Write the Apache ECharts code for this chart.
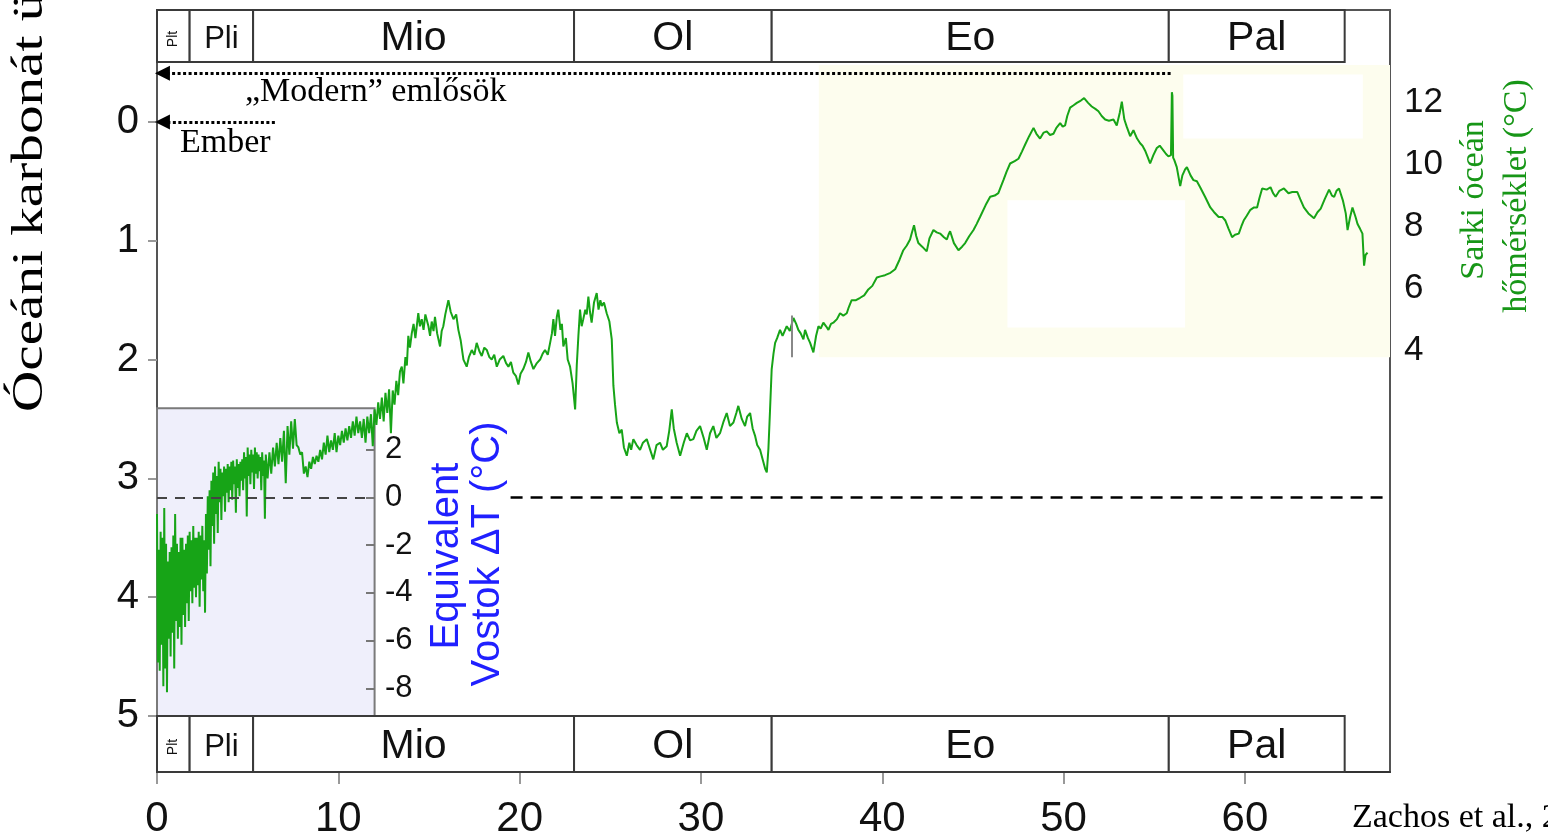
<!DOCTYPE html>
<html><head><meta charset="utf-8">
<script src="https://cdn.jsdelivr.net/npm/echarts@6/dist/echarts.min.js"></script>
<style>html,body{margin:0;padding:0;background:#fff}#c{width:1548px;height:840px}</style>
</head><body><div id="c"></div>
<script>
// ---------- data ----------
const ageTicks = [0, 10, 20, 30, 40, 50, 60];
const d18oTicks = [0, 1, 2, 3, 4, 5];
const polarTempTicks = [4, 6, 8, 10, 12];
const vostokTicks = [-8, -6, -4, -2, 0, 2];

const epochNames = ['Plt', 'Pli', 'Mio', 'Ol', 'Eo', 'Pal'];
const epochStart = [0, 1.8, 5.3, 23.0, 33.9, 55.8];
const epochEnd = [1.8, 5.3, 23.0, 33.9, 55.8, 65.5];

// deep-sea benthic d18O (per mil) vs age (Ma)
const d18oPleistocene = [
[0.00,3.30],[0.05,4.55],[0.10,3.60],[0.15,4.62],[0.20,3.45],[0.25,4.40],[0.30,3.50],[0.35,4.75],[0.40,3.25],[0.45,4.60],
[0.50,3.55],[0.55,4.80],[0.60,3.70],[0.65,4.35],[0.70,3.62],[0.75,4.50],[0.80,3.58],[0.85,4.30],[0.90,3.48],[0.95,4.60],
[1.00,3.30],[1.05,4.20],[1.10,3.55],[1.15,4.35],[1.20,3.62],[1.25,4.25],[1.30,3.50],[1.35,4.40],[1.40,3.50],[1.45,4.15],
[1.50,3.60],[1.55,4.25],[1.60,3.55],[1.65,4.05],[1.70,3.48],[1.75,4.20],[1.80,3.45],[1.85,3.95],[1.90,3.52],[1.95,4.05],
[2.00,3.40],[2.05,3.92],[2.10,3.50],[2.15,4.00],[2.20,3.50],[2.25,3.90],[2.30,3.45],[2.35,4.08],[2.40,3.48],[2.45,3.85],
[2.50,3.40],[2.55,3.95],[2.60,3.52],[2.65,4.13],[2.70,3.30],[2.75,3.80],[2.80,3.15],[2.85,3.60],[2.90,3.10],[2.95,3.74]
];
const d18oPliocene = [
[3.00,3.02],[3.05,3.40],[3.10,2.95],[3.15,3.55],[3.20,2.90],[3.25,3.30],[3.30,2.98],[3.35,3.46],[3.40,2.86],[3.45,3.20],
[3.50,2.92],[3.55,3.35],[3.60,2.95],[3.65,3.15],[3.70,2.90],[3.75,3.28],[3.80,2.92],[3.85,3.12],[3.90,2.88],[3.95,3.20],
[4.00,2.90],[4.05,3.10],[4.10,2.86],[4.15,3.18],[4.20,2.85],[4.25,3.05],[4.30,2.90],[4.35,3.29],[4.40,2.84],[4.45,3.08],
[4.50,2.88],[4.55,3.15],[4.60,2.86],[4.65,3.02],[4.70,2.84],[4.75,3.10],[4.80,2.78],[4.85,3.00],[4.90,2.82],[4.95,3.32],
[5.00,2.74],[5.05,2.98],[5.10,2.80],[5.15,3.05],[5.20,2.76],[5.25,2.95],[5.30,2.80],[5.35,3.09],[5.40,2.74],[5.45,2.96],
[5.50,2.78],[5.55,3.00],[5.60,2.80],[5.65,2.94],[5.70,2.82],[5.75,3.10],[5.80,2.78],[5.85,2.98],[5.90,2.85],[5.95,3.34]
];
const d18oLateMiocene = [
[6.0,2.80],[6.1,3.00],[6.2,2.78],[6.3,2.96],[6.4,2.74],[6.5,2.90],[6.6,2.70],[6.7,2.88],[6.8,2.66],[6.9,2.86],
[7.0,2.60],[7.1,3.04],[7.2,2.56],[7.3,2.80],[7.4,2.52],[7.5,2.75],[7.6,2.50],[7.7,2.72],[7.8,2.74],[7.9,2.80],
[8.0,2.78],[8.1,2.96],[8.2,2.90],[8.3,2.99],[8.4,2.86],[8.5,2.92],[8.6,2.82],[8.7,2.88],[8.8,2.81],[8.9,2.86],
[9.0,2.76],[9.1,2.84],[9.2,2.70],[9.3,2.80],[9.4,2.64],[9.5,2.78],[9.6,2.68],[9.7,2.76],[9.8,2.62],[9.9,2.78],
[10.0,2.64],[10.1,2.72],[10.2,2.60],[10.3,2.70],[10.4,2.58],[10.5,2.68],[10.6,2.56],[10.7,2.66],[10.8,2.52],[10.9,2.64],
[11.0,2.48],[11.1,2.62],[11.2,2.52],[11.3,2.66],[11.4,2.50],[11.5,2.70],[11.6,2.48],[11.7,2.62],[11.8,2.46],[11.9,2.73],
[12.0,2.42],[12.1,2.55],[12.2,2.36],[12.3,2.50],[12.4,2.32],[12.5,2.52],[12.6,2.28],[12.7,2.45],[12.8,2.25],[12.9,2.62],
[13.0,2.26],[13.1,2.38],[13.2,2.18],[13.3,2.30],[13.4,2.10]
];
const d18oMioOligo = [
[13.5,2.06],[13.59,2.20],[13.7,1.98],[13.78,2.05],[13.86,1.80],[13.95,1.90],[14.05,1.78],[14.15,1.70],[14.25,1.82],[14.41,1.61],
[14.5,1.72],[14.6,1.66],[14.7,1.75],[14.8,1.62],[14.88,1.61],[14.97,1.72],[15.06,1.80],[15.15,1.68],[15.25,1.76],[15.33,1.64],
[15.45,1.78],[15.61,1.89],[15.7,1.76],[15.79,1.72],[15.9,1.62],[16.07,1.50],[16.2,1.60],[16.35,1.66],[16.5,1.62],[16.62,1.75],
[16.75,1.84],[16.9,2.00],[17.08,2.06],[17.2,1.98],[17.36,1.92],[17.5,1.96],[17.63,1.86],[17.78,1.93],[17.91,1.97],[18.05,1.90],
[18.19,1.92],[18.33,1.98],[18.46,2.00],[18.6,1.96],[18.74,2.06],[18.9,2.00],[19.1,1.97],[19.25,2.03],[19.38,2.06],[19.52,2.02],
[19.65,2.11],[19.8,2.14],[19.93,2.21],[20.05,2.12],[20.2,2.08],[20.35,2.02],[20.48,1.94],[20.62,2.02],[20.76,2.08],[20.95,2.03],
[21.13,2.00],[21.27,1.95],[21.4,1.92],[21.55,1.96],[21.68,1.86],[21.78,1.78],[21.86,1.66],[21.95,1.80],[22.05,1.64],[22.13,1.58],
[22.25,1.75],[22.33,1.70],[22.41,1.89],[22.55,1.82],[22.65,2.00],[22.78,2.06],[22.92,2.20],[23.06,2.42],[23.15,2.05],[23.24,1.80],
[23.33,1.58],[23.42,1.72],[23.51,1.66],[23.62,1.58],[23.7,1.62],[23.79,1.47],[23.88,1.60],[23.97,1.69],[24.1,1.52],[24.25,1.44],
[24.35,1.58],[24.45,1.50],[24.53,1.55],[24.65,1.52],[24.8,1.61],[24.95,1.68],[25.08,1.83],[25.17,2.22],[25.26,2.38],[25.36,2.53],
[25.5,2.62],[25.63,2.59],[25.75,2.74],[25.91,2.81],[26.05,2.70],[26.15,2.76],[26.27,2.67],[26.45,2.72],[26.64,2.76],[26.8,2.70],
[27.01,2.67],[27.2,2.76],[27.37,2.84],[27.55,2.72],[27.74,2.70],[27.9,2.76],[28.11,2.73],[28.25,2.60],[28.39,2.42],[28.5,2.58],
[28.66,2.70],[28.85,2.81],[29.05,2.70],[29.22,2.62],[29.4,2.68],[29.58,2.67],[29.75,2.60],[29.95,2.56],[30.15,2.66],[30.32,2.76],
[30.5,2.62],[30.68,2.56],[30.85,2.66],[31.05,2.62],[31.25,2.52],[31.42,2.45],[31.6,2.56],[31.79,2.53],[31.95,2.45],[32.06,2.39],
[32.25,2.50],[32.43,2.56],[32.55,2.48],[32.71,2.45],[32.85,2.58],[32.98,2.64],[33.1,2.72],[33.26,2.76],[33.4,2.84],[33.54,2.92],
[33.63,2.95],[33.72,2.75],[33.81,2.42],[33.9,2.08]
];
const d18oPaleogene = [
[34.0,1.95],[34.09,1.86],[34.2,1.82],[34.36,1.75],[34.5,1.80],[34.73,1.72],[34.9,1.76],[35.1,1.65],[35.25,1.70],[35.37,1.75],
[35.5,1.78],[35.65,1.83],[35.74,1.75],[35.9,1.82],[36.02,1.86],[36.2,1.94],[36.35,1.80],[36.48,1.72],[36.6,1.74],[36.75,1.69],
[36.9,1.72],[37.03,1.75],[37.17,1.70],[37.3,1.69],[37.5,1.66],[37.67,1.61],[37.85,1.63],[38.04,1.61],[38.15,1.56],[38.31,1.50],
[38.55,1.50],[38.78,1.48],[39.0,1.46],[39.23,1.41],[39.45,1.38],[39.7,1.31],[39.9,1.30],[40.15,1.29],[40.45,1.27],[40.71,1.24],
[40.95,1.16],[41.16,1.08],[41.35,1.04],[41.53,0.99],[41.62,0.94],[41.75,0.87],[41.87,0.96],[41.99,1.02],[42.2,1.05],[42.45,1.09],
[42.6,0.98],[42.82,0.91],[43.0,0.93],[43.19,0.94],[43.4,0.97],[43.56,0.99],[43.65,0.95],[43.74,0.92],[43.95,1.02],[44.2,1.08],
[44.4,1.05],[44.57,1.02],[44.8,0.96],[45.03,0.91],[45.2,0.86],[45.39,0.80],[45.7,0.70],[45.95,0.63],[46.2,0.62],[46.4,0.60],
[46.55,0.54],[46.68,0.49],[46.85,0.42],[47.05,0.35],[47.3,0.33],[47.51,0.31],[47.7,0.25],[47.88,0.19],[48.1,0.12],[48.34,0.05],
[48.5,0.10],[48.7,0.14],[48.9,0.09],[49.07,0.08],[49.25,0.11],[49.44,0.10],[49.6,0.05],[49.81,0.01],[49.95,0.04],[50.08,0.03],
[50.2,-0.05],[50.36,-0.12],[50.55,-0.14],[50.73,-0.16],[50.95,-0.18],[51.13,-0.20],[51.35,-0.16],[51.55,-0.13],[51.75,-0.11],[51.92,-0.09],
[52.1,-0.05],[52.29,-0.02],[52.5,-0.01],[52.75,-0.02],[52.93,0.03],[53.1,-0.08],[53.21,-0.17],[53.35,-0.02],[53.48,0.04],[53.67,0.12],
[53.85,0.07],[54.05,0.14],[54.22,0.18],[54.35,0.20],[54.49,0.24],[54.65,0.30],[54.77,0.35],[54.95,0.28],[55.14,0.22],[55.3,0.20],
[55.5,0.24],[55.65,0.27],[55.78,0.29],[55.92,0.28],[55.97,-0.25],[56.0,-0.22],[56.04,0.30],[56.1,0.32],[56.24,0.38],[56.43,0.54],
[56.55,0.45],[56.7,0.40],[56.8,0.38],[57.0,0.45],[57.16,0.49],[57.35,0.50],[57.53,0.55],[57.8,0.63],[58.09,0.72],[58.3,0.76],
[58.55,0.80],[58.75,0.80],[58.92,0.83],[59.1,0.90],[59.29,0.97],[59.45,0.95],[59.66,0.94],[59.8,0.88],[59.93,0.83],[60.1,0.79],
[60.3,0.74],[60.5,0.72],[60.67,0.72],[60.8,0.64],[60.95,0.56],[61.2,0.57],[61.41,0.55],[61.55,0.60],[61.69,0.63],[61.9,0.58],
[62.15,0.56],[62.4,0.60],[62.61,0.59],[62.89,0.59],[63.05,0.65],[63.25,0.72],[63.5,0.77],[63.81,0.81],[64.0,0.76],[64.18,0.73],
[64.4,0.65],[64.64,0.57],[64.8,0.62],[64.92,0.63],[65.05,0.58],[65.19,0.56],[65.4,0.66],[65.56,0.77],[65.66,0.91],[65.8,0.80],
[65.93,0.72],[66.1,0.80],[66.21,0.86],[66.35,0.90],[66.48,0.94],[66.57,1.21],[66.65,1.12],[66.76,1.10]
];

// reference levels / regions (axis units)
const vostokZeroD18O = 3.16;          // d18O where equivalent Vostok dT = 0
const vostokBox = [0, 2.41, 12, 5];   // age0, d18O top, age1, d18O bottom
const dashedGapAges = [12, 19.5];
const polarPanel = [36.5, -0.48, 68, 1.98];
const whitePatches = [[56.6, -0.40, 66.5, 0.14], [46.9, 0.66, 56.7, 1.73]];
const greyMark = [35.0, 1.63, 1.98];
const arrowModern = [55.9, 0.3, -0.41];
const arrowHuman = [6.5, 0.3, 0.0];

// axis extents
const ageMax = 68;
const d18oMin = -0.5, d18oMax = 5;
const tempMin = -7.80, tempMax = 13.29;
const vostokMin = -9.16, vostokMax = 18.23;

// ---------- chart ----------
const chart = echarts.init(document.getElementById('c'), null, {renderer: 'canvas'});
const SANS = 'Liberation Sans';
const SERIF = 'Liberation Serif';
const G = {left: 157, right: 158};

function epochRenderer(params, api) {
  const s = api.value(0), e = api.value(1);
  const name = epochNames[params.dataIndex];
  const p0 = api.coord([s, 1]), p1 = api.coord([e, 0]);
  const w = p1[0] - p0[0], h = p1[1] - p0[1];
  const cx = (p0[0] + p1[0]) / 2, cy = (p0[1] + p1[1]) / 2;
  let font = '41px ' + SANS, rot = 0;
  if (w < 40) { font = '14px ' + SANS; rot = Math.PI / 2; }
  else if (w < 80) { font = '31px ' + SANS; }
  return {
    type: 'group',
    children: [
      {type: 'rect', shape: {x: p0[0], y: p0[1], width: w, height: h},
       style: {fill: '#fff', stroke: '#3a3a3a', lineWidth: 2}},
      {type: 'text', x: cx, y: cy + 3, rotation: rot,
       style: {text: name, font: font, fill: '#111', align: 'center', verticalAlign: 'middle'}}
    ]
  };
}
const epochData = epochStart.map((s, i) => [s, epochEnd[i]]);

const option = {
  animation: false,
  backgroundColor: '#fff',
  grid: [
    {left: G.left, right: G.right, top: 62.5, bottom: 124},
    {left: G.left, right: G.right, top: 10, bottom: 778},
    {left: G.left, right: G.right, top: 716, bottom: 68},
    {left: G.left, right: G.right, top: 10, bottom: 68, show: true, borderColor: '#555', borderWidth: 2, backgroundColor: 'transparent'}
  ],
  xAxis: [
    {gridIndex: 0, type: 'value', min: 0, max: ageMax, show: false},
    {gridIndex: 1, type: 'value', min: 0, max: ageMax, show: false},
    {gridIndex: 2, type: 'value', min: 0, max: ageMax, position: 'bottom',
     axisLine: {show: true, lineStyle: {color: '#333', width: 2}},
     axisTick: {show: true, customValues: ageTicks, length: 12, lineStyle: {color: '#999', width: 2}},
     axisLabel: {customValues: ageTicks, margin: 26, fontSize: 42, fontFamily: SANS, color: '#111'},
     splitLine: {show: false}},
    {gridIndex: 3, type: 'value', min: 0, max: ageMax, show: false}
  ],
  yAxis: [
    {gridIndex: 0, type: 'value', position: 'left', inverse: true, min: d18oMin, max: d18oMax,
     axisLine: {show: false},
     axisTick: {show: true, customValues: d18oTicks, length: 9, lineStyle: {color: '#999', width: 2}},
     axisLabel: {customValues: d18oTicks, margin: 18, fontSize: 40, fontFamily: SANS, color: '#111'},
     splitLine: {show: false}},
    {gridIndex: 0, type: 'value', position: 'right', min: tempMin, max: tempMax,
     axisLine: {show: false},
     axisTick: {show: true, inside: true, customValues: polarTempTicks, length: 9, lineStyle: {color: '#999', width: 2}},
     axisLabel: {customValues: polarTempTicks, margin: 14, fontSize: 35, fontFamily: SANS, color: '#111'},
     splitLine: {show: false}},
    {gridIndex: 0, type: 'value', position: 'left', offset: -218, min: vostokMin, max: vostokMax, z: 10,
     axisLine: {show: false},
     axisTick: {show: true, customValues: vostokTicks, length: 9, lineStyle: {color: '#777', width: 2}},
     axisLabel: {inside: true, customValues: vostokTicks, margin: 10, fontSize: 31, fontFamily: SANS, color: '#111'},
     splitLine: {show: false}},
    {gridIndex: 1, type: 'value', min: 0, max: 1, show: false},
    {gridIndex: 2, type: 'value', min: 0, max: 1, show: false},
    {gridIndex: 3, type: 'value', min: 0, max: 1, show: false}
  ],
  series: [
    {
      name: 'backdrop', type: 'line', xAxisIndex: 0, yAxisIndex: 0, data: [], z: 1, silent: true,
      markArea: {
        silent: true,
        data: [
          [{coord: [polarPanel[0], polarPanel[1]], itemStyle: {color: '#fdfdee'}}, {coord: [polarPanel[2], polarPanel[3]]}],
          [{coord: [whitePatches[0][0], whitePatches[0][1]], itemStyle: {color: '#ffffff'}}, {coord: [whitePatches[0][2], whitePatches[0][3]]}],
          [{coord: [whitePatches[1][0], whitePatches[1][1]], itemStyle: {color: '#ffffff'}}, {coord: [whitePatches[1][2], whitePatches[1][3]]}],
          [{coord: [vostokBox[0], vostokBox[1]], itemStyle: {color: '#efeffb', borderColor: '#7a7a7a', borderWidth: 2}}, {coord: [vostokBox[2], vostokBox[3]]}]
        ]
      },
      markLine: {
        silent: true, symbol: 'none', label: {show: false},
        data: [
          [{coord: [vostokBox[0], vostokZeroD18O], lineStyle: {color: '#444', width: 2, type: [10, 8]}}, {coord: [dashedGapAges[0], vostokZeroD18O]}],
          [{coord: [dashedGapAges[1], vostokZeroD18O], lineStyle: {color: '#000', width: 2.5, type: [12, 8]}}, {coord: [ageMax, vostokZeroD18O]}],
          [{coord: [greyMark[0], greyMark[1]], lineStyle: {color: '#888', width: 2, type: 'solid'}}, {coord: [greyMark[0], greyMark[2]]}]
        ]
      }
    },
    {
      name: 'd18O', type: 'line', xAxisIndex: 0, yAxisIndex: 0, z: 3,
      data: d18oPleistocene.concat(d18oPliocene, d18oLateMiocene, d18oMioOligo, d18oPaleogene),
      showSymbol: false, symbol: 'none', smooth: false, sampling: 'none',
      lineStyle: {color: '#17a417', width: 2}
    },
    {
      name: 'arrows', type: 'line', xAxisIndex: 0, yAxisIndex: 0, data: [], z: 4, silent: true,
      markLine: {
        silent: true, symbol: ['none', 'triangle'], symbolSize: 15, label: {show: false},
        lineStyle: {color: '#000', width: 3, type: [3, 2.5]},
        itemStyle: {color: '#000'},
        data: [
          [{coord: [arrowModern[0], arrowModern[2]]}, {coord: [arrowModern[1], arrowModern[2]]}],
          [{coord: [arrowHuman[0], arrowHuman[2]]}, {coord: [arrowHuman[1], arrowHuman[2]]}]
        ]
      }
    },
    {name: 'epochsTop', type: 'custom', xAxisIndex: 1, yAxisIndex: 3, z: 5, data: epochData, renderItem: epochRenderer, silent: true},
    {name: 'epochsBottom', type: 'custom', xAxisIndex: 2, yAxisIndex: 4, z: 5, data: epochData, renderItem: epochRenderer, silent: true}
  ],
  graphic: [
    {type: 'text', x: 30, y: 412, rotation: Math.PI / 2, scaleX: 1.3, z: 20,
     style: {text: 'Óceáni karbonát üledék δ18O (‰)', font: '44px ' + SERIF, fill: '#000', align: 'left', verticalAlign: 'middle'}},
    {type: 'text', x: 1474, y: 200, rotation: Math.PI / 2, z: 20,
     style: {text: 'Sarki óceán', font: '34px ' + SERIF, fill: '#179617', align: 'center', verticalAlign: 'middle'}},
    {type: 'text', x: 1517, y: 196, rotation: Math.PI / 2, z: 20,
     style: {text: 'hőmérséklet (°C)', font: '34px ' + SERIF, fill: '#179617', align: 'center', verticalAlign: 'middle'}},
    {type: 'text', x: 447, y: 556, rotation: Math.PI / 2, z: 20,
     style: {text: 'Equivalent', font: '40px ' + SANS, fill: '#2020ff', align: 'center', verticalAlign: 'middle'}},
    {type: 'text', x: 488, y: 554, rotation: Math.PI / 2, z: 20,
     style: {text: 'Vostok ΔT (°C)', font: '40px ' + SANS, fill: '#2020ff', align: 'center', verticalAlign: 'middle'}},
    {type: 'text', x: 245, y: 92, z: 20,
     style: {text: '„Modern” emlősök', font: '34px ' + SERIF, fill: '#000', align: 'left', verticalAlign: 'middle'}},
    {type: 'text', x: 180, y: 143, z: 20,
     style: {text: 'Ember', font: '34px ' + SERIF, fill: '#000', align: 'left', verticalAlign: 'middle'}},
    {type: 'text', x: 1352, y: 818, z: 20,
     style: {text: 'Zachos et al., 2008', font: '34px ' + SERIF, fill: '#000', align: 'left', verticalAlign: 'middle'}}
  ]
};
chart.setOption(option);
</script>
</body></html>
